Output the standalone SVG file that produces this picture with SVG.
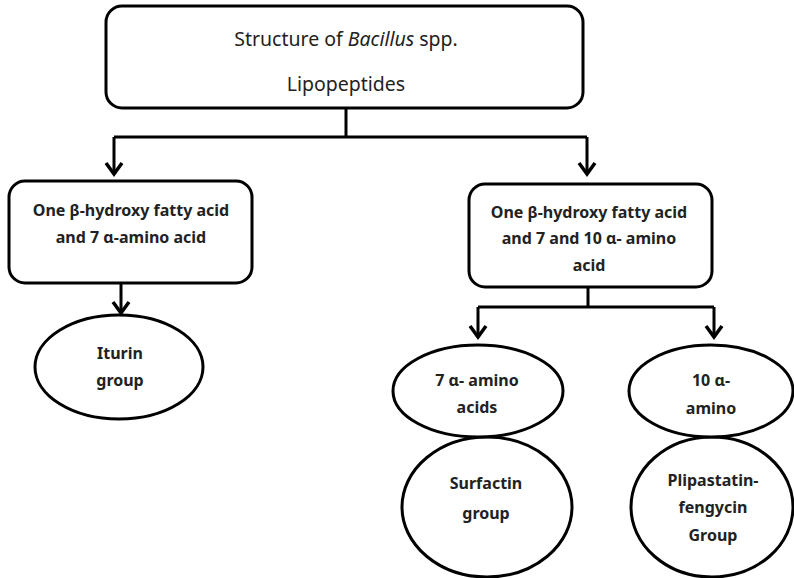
<svg xmlns="http://www.w3.org/2000/svg" width="794" height="578" viewBox="0 0 794 578">
<style>
.box{fill:#fff;stroke:#000;stroke-width:3}
.ln{fill:none;stroke:#000;stroke-width:3}
.hd{fill:none;stroke:#000;stroke-width:3.5;stroke-linejoin:miter}
.t{font-family:"Noto Sans","Open Sans",sans-serif;font-size:16px;font-weight:bold;fill:#222;text-anchor:middle}
.tt{font-family:"Noto Sans","Open Sans",sans-serif;font-size:19.5px;fill:#222;text-anchor:middle}
</style>
<rect width="794" height="578" fill="#fff"/>
<g id="connectors">
<path class="ln" d="M346 108V137M114 137H587M114 137V174M587 137V174"/>
<path class="hd" d="M106 163L114 174L122 163M579 163L587 174L595 163"/>
<path class="ln" d="M121 283V313"/>
<path class="hd" d="M113 302L121 313L129 302"/>
<path class="ln" d="M588 287V307M478 307H714M478 307V337M714 307V337"/>
<path class="hd" d="M470 326L478 337L486 326M706 326L714 337L722 326"/>
</g>
<g id="root">
<rect class="box" x="106" y="6" width="477" height="102" rx="16"/>
<text class="tt" x="346" y="46">Structure of <tspan font-style="italic">Bacillus</tspan> spp.</text>
<text class="tt" x="346" y="91">Lipopeptides</text>
</g>
<g id="left">
<rect class="box" x="9" y="181" width="243" height="102" rx="16"/>
<text class="t" x="131" y="216">One β-hydroxy fatty acid</text>
<text class="t" x="131" y="243">and 7 α-amino acid</text>
</g>
<g id="right">
<rect class="box" x="469" y="184" width="243" height="103" rx="16"/>
<text class="t" x="589" y="218">One β-hydroxy fatty acid</text>
<text class="t" x="589" y="244">and 7 and 10 α- amino</text>
<text class="t" x="589" y="271">acid</text>
</g>
<g id="iturin">
<ellipse class="box" cx="119" cy="367" rx="84" ry="52"/>
<text class="t" x="120" y="359">Iturin</text>
<text class="t" x="120" y="386">group</text>
</g>
<g id="surfactin">
<ellipse class="box" cx="487" cy="507" rx="85" ry="70"/>
<text class="t" x="486" y="489">Surfactin</text>
<text class="t" x="486" y="519">group</text>
</g>
<g id="seven">
<ellipse class="box" cx="478" cy="391" rx="85" ry="46"/>
<text class="t" x="477" y="386">7 α- amino</text>
<text class="t" x="477" y="413">acids</text>
</g>
<g id="plipastatin">
<ellipse class="box" cx="712" cy="507" rx="81" ry="70"/>
<text class="t" x="713" y="486">Plipastatin-</text>
<text class="t" x="713" y="513">fengycin</text>
<text class="t" x="713" y="541">Group</text>
</g>
<g id="ten">
<ellipse class="box" cx="711" cy="391" rx="82" ry="46"/>
<text class="t" x="711" y="386">10 α-</text>
<text class="t" x="711" y="414">amino</text>
</g>
</svg>
